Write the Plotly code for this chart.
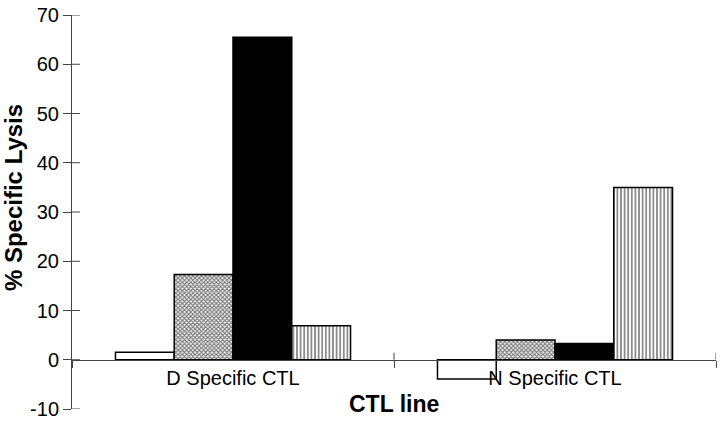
import plotly.graph_objects as go

# CTL lines on the x axis, one bar per target in each group
ctl_lines = ["D Specific CTL", "N Specific CTL"]
series_names = ["Target 1", "Target 2", "Target 3", "Target 4"]
lysis = {
    "Target 1": [1.5, -3.9],
    "Target 2": [17.3, 4.0],
    "Target 3": [65.5, 3.3],
    "Target 4": [6.9, 35.0],
}
y_ticks = [-10, 0, 10, 20, 30, 40, 50, 60, 70]
y_ticktext = ["-10", "0", "10", "20", "30", "40", "50", "60", "70"]

styles = {
    "Target 1": dict(color="white"),
    "Target 2": dict(color="white", pattern=dict(shape="x", size=3, solidity=0.65,
                                                 fgcolor="black", bgcolor="white")),
    "Target 3": dict(color="black"),
    "Target 4": dict(color="white", pattern=dict(shape="|", size=3.6, solidity=0.45,
                                                 fgcolor="black", bgcolor="white")),
}

fig = go.Figure()
for name in series_names:
    fig.add_trace(go.Bar(
        x=ctl_lines, y=lysis[name], name=name,
        marker=dict(**styles[name], line=dict(color="black", width=1.5)),
    ))

family = "Liberation Sans, Arial, sans-serif"
tick_font = dict(family=family, size=20, color="black")

# inner halves of the crossing tick marks
shapes = []
for v in y_ticks:
    shapes.append(dict(type="line", xref="paper", xsizemode="pixel", xanchor=0,
                       x0=0, x1=8, yref="y", y0=v, y1=v,
                       line=dict(color="#444", width=1)))
for b in [0.5, 1.5]:
    shapes.append(dict(type="line", xref="x", x0=b, x1=b, yref="y",
                       ysizemode="pixel", yanchor=0, y0=0, y1=7,
                       line=dict(color="#444", width=1)))

fig.update_layout(
    width=720, height=424,
    margin=dict(l=72, r=4, t=12, b=11),
    paper_bgcolor="white", plot_bgcolor="white",
    font=tick_font,
    showlegend=False,
    barmode="group", bargap=0.27, bargroupgap=0,
    shapes=shapes,
    xaxis=dict(
        range=[-0.5, 1.5], anchor="free", position=0.125,
        showline=True, linecolor="#444", linewidth=1,
        tickson="boundaries", ticks="outside", ticklen=7, tickcolor="#444",
        showgrid=False, zeroline=False, tickfont=tick_font,
    ),
    yaxis=dict(
        range=[-10, 70], tickvals=y_ticks, ticktext=y_ticktext,
        showline=True, linecolor="#444", linewidth=1,
        ticks="outside", ticklen=8, tickcolor="#444",
        showgrid=False, zeroline=False, tickfont=tick_font,
    ),
    annotations=[
        dict(text="<b>% Specific Lysis</b>", textangle=-90, xref="paper", yref="paper",
             x=0, xshift=-59, y=0.581, yshift=-18, xanchor="center", yanchor="middle",
             showarrow=False, font=dict(family=family, size=24, color="black")),
        dict(text="<b>CTL line</b>", xref="paper", yref="paper",
             x=0.5, y=0.0125, xanchor="center", yanchor="middle",
             showarrow=False, font=dict(family=family, size=23, color="black")),
    ],
)

fig.write_html("out.html", config={"displayModeBar": False},
               post_script="document.body.style.margin='0';")
